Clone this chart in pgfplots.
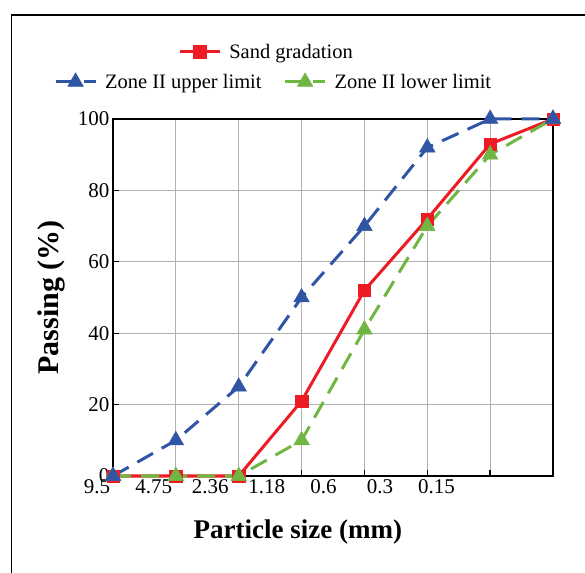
\documentclass[border=0pt]{standalone}
\usepackage{pgfplots}
\pgfplotsset{compat=1.18}
\usepackage{fontspec}
\setmainfont{Liberation Serif}
\definecolor{sandred}{RGB}{237,28,36}
\definecolor{upblue}{RGB}{47,85,164}
\definecolor{lowgreen}{RGB}{112,182,66}
\tikzset{
  sandline/.style={sandred, line width=3bp, mark=square*, mark size=6.2bp,
    mark options={solid, line width=0.5bp}},
  upline/.style={upblue, line width=3bp, dash pattern=on 18bp off 10bp,
    mark=triangle*, mark size=9bp, mark options={solid, line width=0.5bp}},
  lowline/.style={lowgreen, line width=3bp, dash pattern=on 18bp off 10bp,
    mark=triangle*, mark size=9bp, mark options={solid, line width=0.5bp}},
}
\pgfplotsset{
  boxgeom/.style={at={(113bp,97bp)}, anchor=south west, scale only axis,
    width=440bp, height=357bp, xmin=0, xmax=7, ymin=0, ymax=100},
  mylegend/.style={legend style={draw=none, fill=none,
    font=\fontsize{20.5bp}{24bp}\selectfont,
    /tikz/every odd column/.append style={column sep=6bp},
    /tikz/every even column/.append style={column sep=20bp}},
    legend cell align=left,
    legend image code/.code={\draw[mark repeat=2, mark phase=2]
      plot coordinates {(0bp,0bp) (20bp,0bp) (40bp,0bp)};}},
}

\begin{document}
\begin{tikzpicture}
\useasboundingbox (0bp,0bp) rectangle (585bp,573bp);
\draw[line width=1.6bp] (11.5bp,-30bp) rectangle (650bp,558bp);

\begin{axis}[
  boxgeom, mylegend,
  clip=false,
  xtick={0,...,7},
  xticklabels={9.5,4.75,2.36,1.18,0.6,0.3,0.15,},
  ytick={0,20,...,100},
  xtick pos=bottom, ytick pos=left,
  tick align=inside, major tick length=6bp,
  grid=major, grid style={color=black!30, line width=0.9bp},
  axis line style={line width=1.3bp},
  tick style={black, line width=1.3bp},
  tick label style={font=\fontsize{21bp}{25bp}\selectfont},
  /pgf/number format/assume math mode=true,
  xticklabel style={xshift={-16-6.3*\ticknum}},
  ylabel={\textbf{Passing (\%)}},
  ylabel style={at={(axis description cs:-0.139,0.5)}, anchor=center,
    font=\fontsize{30bp}{34bp}\selectfont, inner sep=0pt},
  xlabel={\textbf{Particle size (mm)}},
  xlabel style={at={(axis description cs:0.42,0)}, anchor=north,
    yshift=-44bp, font=\fontsize{27bp}{32bp}\selectfont, inner sep=0pt},
  legend columns=2,
  legend style={at={(0.365,1.104)}, anchor=center},
]
\addplot[sandline, forget plot] coordinates {
  (0,0) (1,0) (2,0) (3,21) (4,52) (5,72) (6,93) (7,100)};
\addplot[lowline, forget plot] coordinates {
  (0,0) (1,0) (2,0) (3,10) (4,41) (5,70) (6,90) (7,100)};
\addplot[upline, forget plot] coordinates {
  (0,0) (1,10) (2,25) (3,50) (4,70) (5,92) (6,100) (7,100)};
\addlegendimage{upline}
\addlegendentry{Zone II upper limit}
\addlegendimage{lowline}
\addlegendentry{Zone II lower limit}
\end{axis}

% separate legend for the single top row
\begin{axis}[
  boxgeom, mylegend, hide axis,
  legend style={at={(0.349,1.188)}, anchor=center},
]
\addlegendimage{sandline}
\addlegendentry{Sand gradation}
\end{axis}
\end{tikzpicture}
\end{document}
